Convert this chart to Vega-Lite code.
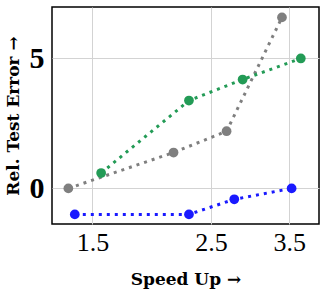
{
  "$schema": "https://vega.github.io/schema/vega-lite/v6.json",
  "autosize": "none",
  "width": 267,
  "height": 217,
  "padding": {"left": 52, "top": 7, "right": 6, "bottom": 72},
  "background": "white",
  "config": {
    "view": {"stroke": "black", "strokeWidth": 1.5},
    "axis": {"gridColor": "#d3d3d3", "gridWidth": 1, "ticks": false, "domain": false, "labelColor": "black", "titleColor": "black"}
  },
  "data": {
    "values": [
      {"series": "gray", "speedup": 1.352, "err": 0.0},
      {"series": "gray", "speedup": 2.127, "err": 1.38},
      {"series": "gray", "speedup": 2.673, "err": 2.2},
      {"series": "gray", "speedup": 3.393, "err": 6.58},
      {"series": "green", "speedup": 1.557, "err": 0.59},
      {"series": "green", "speedup": 2.273, "err": 3.38},
      {"series": "green", "speedup": 2.864, "err": 4.19},
      {"series": "green", "speedup": 3.68, "err": 5.0},
      {"series": "blue", "speedup": 1.39, "err": -1.0},
      {"series": "blue", "speedup": 2.273, "err": -1.0},
      {"series": "blue", "speedup": 2.763, "err": -0.42},
      {"series": "blue", "speedup": 3.537, "err": 0.0}
    ]
  },
  "mark": {"type": "line", "strokeWidth": 3, "strokeDash": [3, 5], "point": {"filled": true, "size": 95, "opacity": 1}},
  "encoding": {
    "x": {
      "field": "speedup", "type": "quantitative",
      "scale": {"type": "log", "domain": [1.26, 3.98], "nice": false},
      "axis": {"values": [1.5, 2.5, 3.5], "format": ".1f", "title": "Speed Up →",
        "labelFont": "Liberation Serif", "labelFontSize": 26, "labelFontWeight": "normal", "labelPadding": 5,
        "titleFont": "DejaVu Serif", "titleFontSize": 17, "titleFontWeight": "bold", "titlePadding": 16}
    },
    "y": {
      "field": "err", "type": "quantitative",
      "scale": {"domain": [-1.37, 6.98], "nice": false, "zero": false},
      "axis": {"values": [0, 5], "format": "d", "title": "Rel. Test Error →",
        "labelFont": "Liberation Serif", "labelFontSize": 30, "labelFontWeight": "bold", "labelPadding": 8,
        "titleFont": "DejaVu Serif", "titleFontSize": 17, "titleFontWeight": "bold", "titlePadding": 7}
    },
    "color": {
      "field": "series", "type": "nominal",
      "scale": {"domain": ["gray", "green", "blue"], "range": ["#7f7f7f", "#239b56", "#1a1aff"]},
      "legend": null
    },
    "order": {"field": "speedup", "type": "quantitative"}
  }
}
